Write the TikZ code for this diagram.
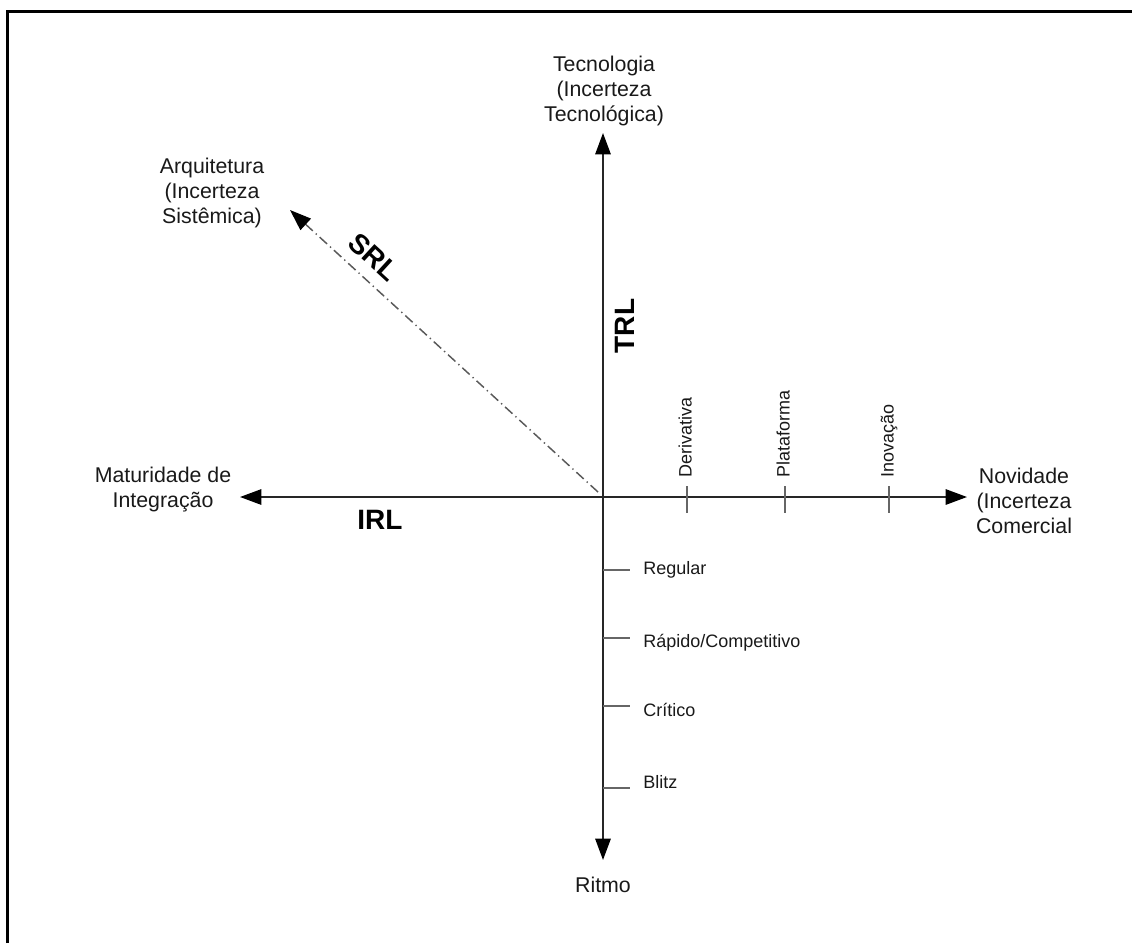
\documentclass[tikz,border=0pt]{standalone}
\usepackage{fontspec}
\setmainfont{Liberation Sans}
\usetikzlibrary{arrows.meta}
\begin{document}
\begin{tikzpicture}[x=0.75pt,y=-0.75pt,
  tip/.style={-{Triangle[length=16pt,width=11.5pt,color=black]}},
  axis/.style={tip, line width=1.4pt, draw=black!85},
  srlaxis/.style={tip, line width=1.1pt, draw=black!65,
    dash pattern=on 7.5pt off 3pt on 1pt off 3pt},
  tickmark/.style={line width=1.3pt, draw=black!60},
  axlabel/.style={font=\fontsize{16}{18.75}\selectfont, align=center, text=black!90, inner sep=0pt},
  ticklabel/.style={font=\fontsize{13.5}{16}\selectfont, text=black!90, inner sep=0pt},
  rl/.style={font=\fontsize{21}{24}\selectfont\bfseries, text=black, inner sep=0pt}
]
\useasboundingbox (0,0) rectangle (1132,943);
% frame (top and left edges)
\draw[line width=2.4pt] (7.5,943) -- (7.5,11.5) -- (1132,11.5);

% axes
\coordinate (O) at (603,497);
\coordinate (up) at (603,133);
\coordinate (down) at (603,860);
\coordinate (left) at (240,497);
\coordinate (right) at (967,497);
\coordinate (srlstart) at (598,492);
\coordinate (srltip) at (290,210);

\draw[axis] (O) -- (up);
\draw[axis] (O) -- (down);
\draw[axis] (O) -- (left);
\draw[axis] (O) -- (right);
\draw[srlaxis] (srlstart) -- (srltip);

% axis titles
\node[axlabel] (tec) at (604,91) {Tecnologia\\(Incerteza\\Tecnológica)};
\node[axlabel] (arq) at (212,193) {Arquitetura\\(Incerteza\\Sistêmica)};
\node[axlabel] (mat) at (163,490) {Maturidade de\\Integração};
\node[axlabel] (nov) at (1024,501) {Novidade\\(Incerteza\\Comercial};
\node[axlabel] (rit) at (603,885) {Ritmo};

% readiness levels
\node[rl] (irl) at (380,520) {IRL};
\node[rl, rotate=90] (trl) at (625,326) {TRL};
\node[rl, rotate=-42.5] (srl) at (374,257) {SRL};

% ticks on the novelty axis
\foreach \x/\lab/\nm in {687/Derivativa/d, 785/Plataforma/p, 889/Inovação/i} {
  \draw[tickmark] (\x,486) -- (\x,513);
  \node[ticklabel, rotate=90, anchor=base west] (nov-\nm) at (\x+4.5,478) {\lab};
}

% ticks on the pace axis
\foreach \y/\ly/\lab/\nm in {570/574/Regular/r, 638/647/{Rápido/Competitivo}/c, 706/716/Crítico/k, 788/788/Blitz/b} {
  \draw[tickmark] (603,\y) -- (630,\y);
  \node[ticklabel, anchor=base west] (pace-\nm) at (643,\ly) {\lab};
}
\end{tikzpicture}
\end{document}
